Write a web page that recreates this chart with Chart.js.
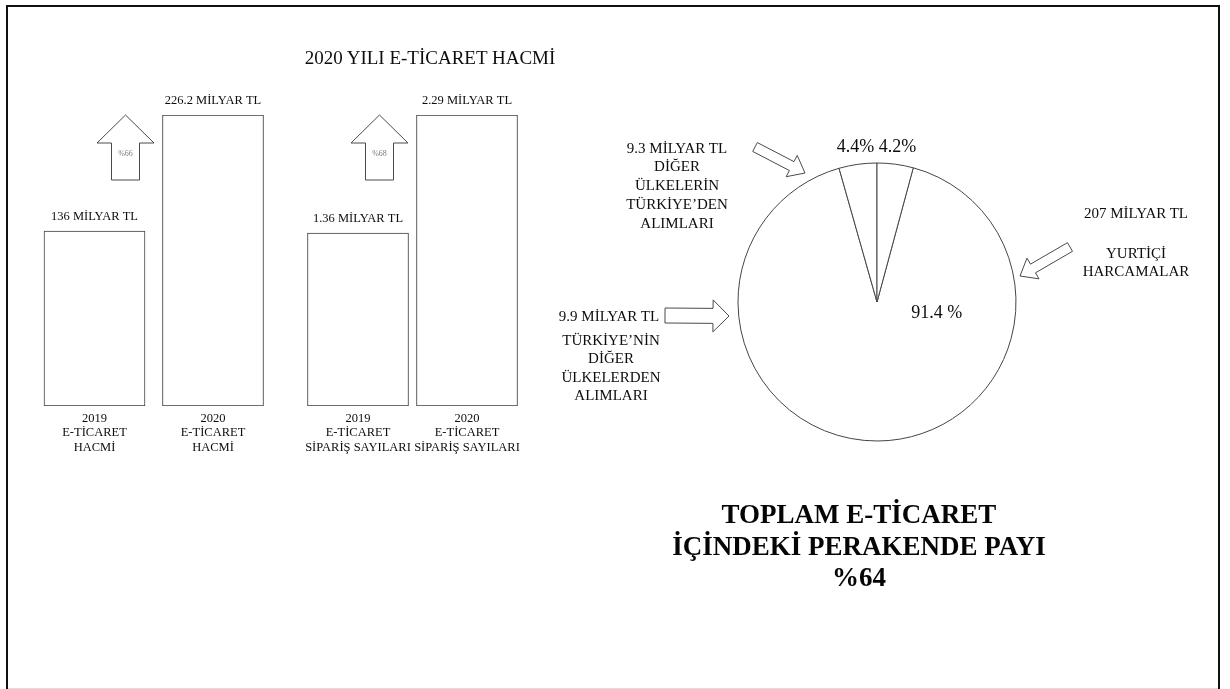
<!DOCTYPE html>
<html lang="tr">
<head>
<meta charset="utf-8">
<title>2020 Yılı E-Ticaret Hacmi</title>
<script src="https://cdn.jsdelivr.net/npm/chart.js@4.4.1/dist/chart.umd.min.js"></script>
<style>
  html, body { margin: 0; padding: 0; background: #fff; }
  body {
    width: 1230px; height: 689px; position: relative; overflow: hidden;
    font-family: "Liberation Serif", "Times New Roman", serif; color: #0d0d0d;
  }
  .frame {
    position: absolute; left: 6px; top: 5px; width: 1214px; height: 720px;
    border: 2px solid #111; border-bottom: none; box-sizing: border-box;
  }
  .edge { position: absolute; left: 8px; top: 688px; width: 1210px; height: 1px; background: #dcdcdc; }
  canvas { position: absolute; }
  .txt { position: absolute; text-align: center; white-space: nowrap; }
  .title { left: 130px; width: 600px; top: 46px; font-size: 19px; line-height: 24px; }
  .note { font-size: 15px; line-height: 18.8px; width: 240px; }
  .total { left: 659px; width: 400px; top: 499px; font-size: 27px; line-height: 31.5px; font-weight: bold; color: #050505; }
</style>
</head>
<body>
<div class="frame"></div>
<div class="edge"></div>

<canvas id="volumeChart" width="300" height="470" style="left:0;top:0"></canvas>
<canvas id="orderChart" width="260" height="470" style="left:290px;top:0"></canvas>
<canvas id="shareChart" width="634" height="604" style="left:560px;top:0"></canvas>

<div class="txt title">2020 YILI E-TİCARET HACMİ</div>

<div class="txt note" style="left:557px;top:138.6px">9.3 MİLYAR TL<br>DİĞER<br>ÜLKELERİN<br>TÜRKİYE’DEN<br>ALIMLARI</div>
<div class="txt note" style="left:489px;top:306.6px">9.9 MİLYAR TL</div>
<div class="txt note" style="left:491px;top:330.7px;line-height:18.5px">TÜRKİYE’NİN<br>DİĞER<br>ÜLKELERDEN<br>ALIMLARI</div>
<div class="txt note" style="left:1016px;top:203.6px">207 MİLYAR TL</div>
<div class="txt note" style="left:1016px;top:244px;line-height:18px">YURTİÇİ<br>HARCAMALAR</div>

<div class="txt total">TOPLAM E-TİCARET<br>İÇİNDEKİ PERAKENDE PAYI<br>%64</div>

<script>
// ---- data ----
const volumeLabels = [['2019', 'E-TİCARET', 'HACMİ'], ['2020', 'E-TİCARET', 'HACMİ']];
const volumeValues = [136, 226.2];          // milyar TL
const orderLabels = [['2019', 'E-TİCARET', 'SİPARİŞ SAYILARI'], ['2020', 'E-TİCARET', 'SİPARİŞ SAYILARI']];
const orderValues = [1.36, 2.29];
const valueUnit = 'MİLYAR TL';
const growthLabels = ['%66', '%68'];

const shareNames = ['Yurtiçi harcamalar', 'Türkiye’nin diğer ülkelerden alımları', 'Diğer ülkelerin Türkiye’den alımları'];
const shareValues = [91.4, 4.4, 4.2];       // yüzde
const shareLabels = ['91.4 %', '4.4%', '4.2%'];

// ---- shared styles ----
const SERIF = '"Liberation Serif", "Times New Roman", serif';
const INK = '#0d0d0d';
const LINE = '#3f3f3f';

// Outline arrow from (x0,y0) to the tip (x1,y1)
function drawArrow(ctx, x0, y0, x1, y1, shaftW, headW, headL) {
  const len = Math.hypot(x1 - x0, y1 - y0);
  const ux = (x1 - x0) / len, uy = (y1 - y0) / len;
  const nx = -uy, ny = ux;
  const bx = x1 - ux * headL, by = y1 - uy * headL;
  const pts = [
    [x0 + nx * shaftW / 2, y0 + ny * shaftW / 2],
    [bx + nx * shaftW / 2, by + ny * shaftW / 2],
    [bx + nx * headW / 2, by + ny * headW / 2],
    [x1, y1],
    [bx - nx * headW / 2, by - ny * headW / 2],
    [bx - nx * shaftW / 2, by - ny * shaftW / 2],
    [x0 - nx * shaftW / 2, y0 - ny * shaftW / 2]
  ];
  ctx.beginPath();
  pts.forEach(([x, y], i) => (i ? ctx.lineTo(x, y) : ctx.moveTo(x, y)));
  ctx.closePath();
  ctx.fillStyle = '#fff';
  ctx.fill();
  ctx.lineWidth = 1;
  ctx.strokeStyle = '#4a4a4a';
  ctx.stroke();
}

// Value captions above the bars and the growth arrow beside the second bar
const barNotes = {
  id: 'barNotes',
  afterDatasetsDraw(chart, args, opts) {
    const { ctx } = chart;
    const meta = chart.getDatasetMeta(0);
    const values = chart.data.datasets[0].data;
    ctx.save();
    ctx.font = '12.5px ' + SERIF;
    ctx.fillStyle = INK;
    ctx.textAlign = 'center';
    ctx.textBaseline = 'middle';
    meta.data.forEach((bar, i) => {
      ctx.fillText(values[i] + ' ' + valueUnit, bar.x, bar.y - 14);
    });
    const next = meta.data[1];
    const cx = next.x - next.width / 2 - 37;
    const top = next.y;
    drawArrow(ctx, cx, top + 65, cx, top, 28, 57, 28);
    ctx.font = '8px ' + SERIF;
    ctx.fillStyle = '#7a7a7a';
    ctx.fillText(opts.growth, cx, top + 39);
    ctx.restore();
  }
};

function makeBarChart(id, labels, values, growth, padLeft, padRight) {
  return new Chart(document.getElementById(id), {
    type: 'bar',
    data: {
      labels: labels,
      datasets: [{
        data: values,
        backgroundColor: '#ffffff',
        borderColor: LINE,
        borderWidth: 1,
        borderSkipped: false,
        barThickness: 101
      }]
    },
    options: {
      responsive: false,
      animation: false,
      layout: { padding: { left: padLeft, right: padRight, top: 115, bottom: 0 } },
      plugins: {
        legend: { display: false },
        tooltip: { enabled: false },
        barNotes: { growth: growth }
      },
      scales: {
        x: {
          grid: { display: false, drawTicks: false },
          border: { display: false },
          ticks: {
            padding: 5,
            autoSkip: false,
            maxRotation: 0,
            color: INK,
            font: { family: SERIF, size: 12.5, lineHeight: 1.16 }
          },
          afterFit(scale) { scale.height = 64; }
        },
        y: { display: false, min: 0, max: Math.max(...values) }
      }
    },
    plugins: [barNotes]
  });
}

makeBarChart('volumeChart', volumeLabels, volumeValues, growthLabels[0], 35.25, 27.75);
makeBarChart('orderChart', orderLabels, orderValues, growthLabels[1], 13.5, 28.5);

// Percent captions on the pie and the pointer arrows next to it
const pieNotes = {
  id: 'pieNotes',
  afterDatasetsDraw(chart) {
    const { ctx } = chart;
    const arcs = chart.getDatasetMeta(0).data;
    const { x: cx, y: cy, outerRadius: R } = arcs[0];
    ctx.save();
    ctx.font = '18px ' + SERIF;
    ctx.fillStyle = INK;
    ctx.textAlign = 'center';
    ctx.textBaseline = 'middle';
    arcs.forEach((arc, i) => {
      const mid = (arc.startAngle + arc.endAngle) / 2;
      let x, y;
      if (arc.endAngle - arc.startAngle > Math.PI) {
        x = cx + R * 0.43;
        y = cy + R * 0.08;
      } else {
        x = cx + Math.cos(mid) * (R + 17);
        y = cy + Math.sin(mid) * (R + 17);
      }
      ctx.fillText(shareLabels[i], x, y);
    });
    // pointers from the side captions toward the circle
    drawArrow(ctx, cx - 122, cy - 155, cx - 72, cy - 129, 10, 24, 15);
    drawArrow(ctx, cx - 212, cy + 13.5, cx - 148, cy + 14, 15, 32, 16);
    drawArrow(ctx, cx + 193, cy - 55, cx + 143, cy - 26, 10, 24, 15);
    ctx.restore();
  }
};

const shareTotal = shareValues.reduce((a, b) => a + b, 0);
new Chart(document.getElementById('shareChart'), {
  type: 'pie',
  data: {
    labels: shareNames,
    datasets: [{
      data: shareValues,
      backgroundColor: '#ffffff',
      borderColor: '#454545',
      borderWidth: 1
    }]
  },
  options: {
    responsive: false,
    animation: false,
    radius: 139,
    rotation: 360 * shareValues[2] / shareTotal,
    plugins: {
      legend: { display: false },
      tooltip: { enabled: false }
    }
  },
  plugins: [pieNotes]
});
</script>
</body>
</html>
